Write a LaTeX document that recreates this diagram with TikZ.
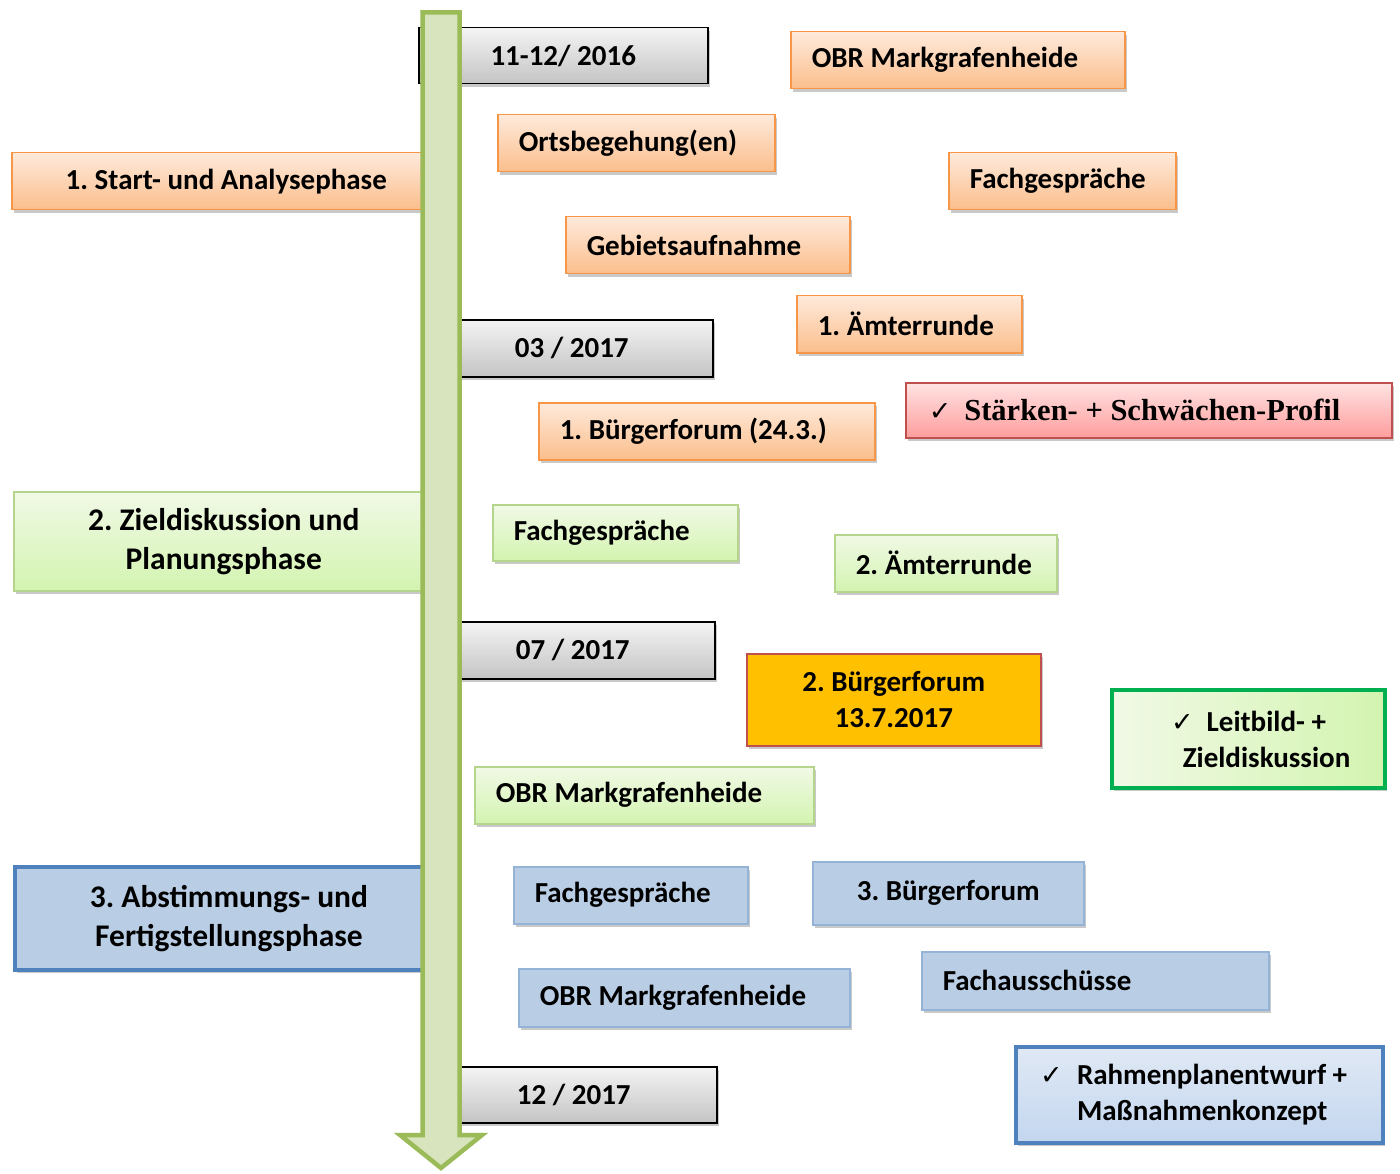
\documentclass[tikz,border=0pt]{standalone}
\usepackage{fontspec}
\setmainfont{Carlito}
\newfontfamily\serifbf{Liberation Serif}
\newfontfamily\symbfont{DejaVu Sans}
\usetikzlibrary{shadows}

\definecolor{datTop}{HTML}{F4F4F4}
\definecolor{datBot}{HTML}{C4C4C4}
\definecolor{orTop}{HTML}{FEEADB}
\definecolor{orBot}{HTML}{FBBE8C}
\definecolor{orLine}{HTML}{F79646}
\definecolor{redTop}{HTML}{FFE3E3}
\definecolor{redBot}{HTML}{FF9D9D}
\definecolor{redLine}{HTML}{C0504D}
\definecolor{grTop}{HTML}{F1F9E6}
\definecolor{grBot}{HTML}{D3F4B0}
\definecolor{grLine}{HTML}{B5D48C}
\definecolor{grDark}{HTML}{00B050}
\definecolor{blFill}{HTML}{B9CDE5}
\definecolor{blLine}{HTML}{95B3D7}
\definecolor{blDark}{HTML}{4F81BD}
\definecolor{blTop}{HTML}{E0E9F5}
\definecolor{blBot}{HTML}{C3D6EF}
\definecolor{yeFill}{HTML}{FFC000}
\definecolor{arFill}{HTML}{D7E4BD}
\definecolor{arLine}{HTML}{9BBB59}

\newcommand{\chk}{{\symbfont\fontsize{27}{27}\selectfont ✓}}

\begin{document}
\frenchspacing
\begin{tikzpicture}[x=1pt,y=-1pt,
  bx/.style={anchor=north west,inner ysep=0pt,inner xsep=21pt,line width=1.5pt,
    font=\bfseries\fontsize{29}{36}\selectfont,
    execute at begin node={\hyphenpenalty=10000},
    drop shadow={shadow xshift=2pt,shadow yshift=-3pt,opacity=.3,fill=black!70}},
  lft/.style={align=flush left,text width=#1},
  ctr/.style={align=center,inner xsep=0pt},
  datebox/.style={bx,ctr,draw=black,top color=datTop,bottom color=datBot},
  orbox/.style={bx,draw=orLine,top color=orTop,bottom color=orBot},
  grbox/.style={bx,draw=grLine,top color=grTop,bottom color=grBot},
  blbox/.style={bx,draw=blLine,fill=blFill},
  phase/.style={ctr,font=\bfseries\fontsize{31.5}{39}\selectfont},
  timeline/.style={draw=arLine,fill=arFill,line width=4.5pt,line join=miter}]
\useasboundingbox (0,0) rectangle (1400,1174);

% phase 1
\node[datebox,minimum width=289pt,minimum height=56pt] (d1) at (418,27) {11-12/ 2016};
\node[orbox,lft=292pt,minimum height=57pt] (obr1) at (790,31) {OBR Markgrafenheide};
\node[orbox,lft=235pt,minimum height=57pt] (orts) at (497,114) {Ortsbegehung(en)};
\node[orbox,ctr,minimum width=429pt,minimum height=57pt] (ph1) at (11,152) {1. Start- und Analysephase};
\node[orbox,lft=185pt,minimum height=57pt] (fach1) at (948,152) {Fachgespräche};
\node[orbox,lft=242pt,minimum height=57pt] (gebiet) at (565,216) {Gebietsaufnahme};
\node[orbox,lft=183pt,minimum height=57pt] (amt1) at (796,295) {1. Ämterrunde};
\node[datebox,minimum width=282pt,minimum height=57pt] (d2) at (430,319) {03 / 2017};
\node[bx,draw=redLine,top color=redTop,bottom color=redBot,inner xsep=23pt,lft=440pt,
  minimum height=55pt,font=\serifbf\bfseries\fontsize{30.5}{36}\selectfont] (staerken) at (905,382)
  {\chk\hspace{13pt}Stärken- + Schwächen-Profil};
\node[orbox,lft=294pt,minimum height=57pt] (bf1) at (538,402) {1. Bürgerforum (24.3.)};

% phase 2
\node[grbox,phase,minimum width=420pt,minimum height=99pt] (ph2) at (13,491) {2. Zieldiskussion und\\Planungsphase};
\node[grbox,lft=203pt,minimum height=56pt] (fach2) at (492,504) {Fachgespräche};
\node[grbox,lft=180pt,minimum height=57pt] (amt2) at (834,534) {2. Ämterrunde};
\node[datebox,minimum width=284pt,minimum height=57pt] (d3) at (430,621) {07 / 2017};
\node[bx,ctr,draw=redLine,fill=yeFill,minimum width=294pt,minimum height=92pt] (bf2) at (746,653) {2. Bürgerforum\\13.7.2017};
\node[bx,ctr,draw=grDark,line width=4pt,left color=grTop,right color=grBot,minimum width=273pt,minimum height=98pt] (leitbild) at (1110,688)
  {\chk\hspace{13pt}Leitbild- +\\\hspace*{36pt}Zieldiskussion};
\node[grbox,lft=297pt,minimum height=57pt] (obr2) at (474,766) {OBR Markgrafenheide};

% phase 3
\node[blbox,phase,draw=blDark,line width=4pt,minimum width=428pt,minimum height=103pt] (ph3) at (13,865) {3. Abstimmungs- und\\Fertigstellungsphase};
\node[blbox,lft=192pt,minimum height=57pt] (fach3) at (513,866) {Fachgespräche};
\node[blbox,ctr,minimum width=271pt,minimum height=63pt] (bf3) at (812,861) {3. Bürgerforum};
\node[blbox,lft=305pt,minimum height=58pt] (ausschuss) at (921,951) {Fachausschüsse};
\node[blbox,lft=289pt,minimum height=58pt] (obr3) at (518,968) {OBR Markgrafenheide};
\node[datebox,minimum width=286pt,minimum height=56pt] (d4) at (430,1066) {12 / 2017};
\node[bx,draw=blDark,line width=4pt,top color=blTop,bottom color=blBot,inner xsep=24pt,lft=319pt,minimum height=96pt] (rahmen) at (1014,1045)
  {\makebox[37pt][l]{\chk}Rahmenplanentwurf +\\\hspace*{37pt}Maßnahmenkonzept};

% time arrow
\draw[timeline] (422.5,12.5) -- (459.5,12.5) -- (459.5,1135) -- (482,1135) -- (441,1168)
  -- (400,1135) -- (422.5,1135) -- cycle;
\end{tikzpicture}
\end{document}
